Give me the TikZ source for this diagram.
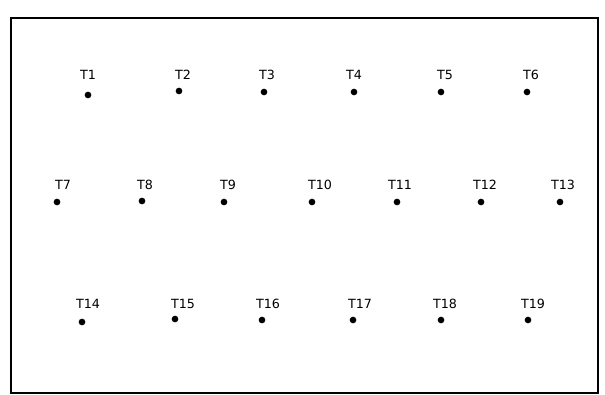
\documentclass[tikz,border=0pt]{standalone}
\usepackage{fontspec}
\setmainfont{DejaVu Sans}

\begin{document}
\begin{tikzpicture}[x=0.75pt, y=-0.75pt, font=\fontsize{9.5}{10}\selectfont,
    frame/.style={draw, line width=1.5pt},
    dot/.style={circle, fill=black, inner sep=0pt, minimum size=5pt},
    tag/.style={inner sep=0pt, anchor=center}
]
\useasboundingbox (0,0) rectangle (605,395);

% Frame
\draw[frame] (11,18) rectangle (598,393);

% Row 1
\node[dot] (T1) at (88,95) {};   \node[tag] (T1lbl) at (88,75) {T1};
\node[dot] (T2) at (179,91) {};  \node[tag] (T2lbl) at (183,75) {T2};
\node[dot] (T3) at (264,92) {};  \node[tag] (T3lbl) at (267,75) {T3};
\node[dot] (T4) at (354,92) {};  \node[tag] (T4lbl) at (354,75) {T4};
\node[dot] (T5) at (441,92) {};  \node[tag] (T5lbl) at (445,75) {T5};
\node[dot] (T6) at (527,92) {};  \node[tag] (T6lbl) at (531,75) {T6};

% Row 2
\node[dot] (T7) at (57,202) {};   \node[tag] (T7lbl) at (63,185) {T7};
\node[dot] (T8) at (142,201) {};  \node[tag] (T8lbl) at (145,185) {T8};
\node[dot] (T9) at (224,202) {};  \node[tag] (T9lbl) at (228,185) {T9};
\node[dot] (T10) at (312,202) {}; \node[tag] (T10lbl) at (320,185) {T10};
\node[dot] (T11) at (397,202) {}; \node[tag] (T11lbl) at (400,185) {T11};
\node[dot] (T12) at (481,202) {}; \node[tag] (T12lbl) at (485,185) {T12};
\node[dot] (T13) at (560,202) {}; \node[tag] (T13lbl) at (563,185) {T13};

% Row 3
\node[dot] (T14) at (82,322) {};  \node[tag] (T14lbl) at (88,304) {T14};
\node[dot] (T15) at (175,319) {}; \node[tag] (T15lbl) at (183,304) {T15};
\node[dot] (T16) at (262,320) {}; \node[tag] (T16lbl) at (268,304) {T16};
\node[dot] (T17) at (353,320) {}; \node[tag] (T17lbl) at (360,304) {T17};
\node[dot] (T18) at (441,320) {}; \node[tag] (T18lbl) at (445,304) {T18};
\node[dot] (T19) at (528,320) {}; \node[tag] (T19lbl) at (533,304) {T19};

\end{tikzpicture}
\end{document}
